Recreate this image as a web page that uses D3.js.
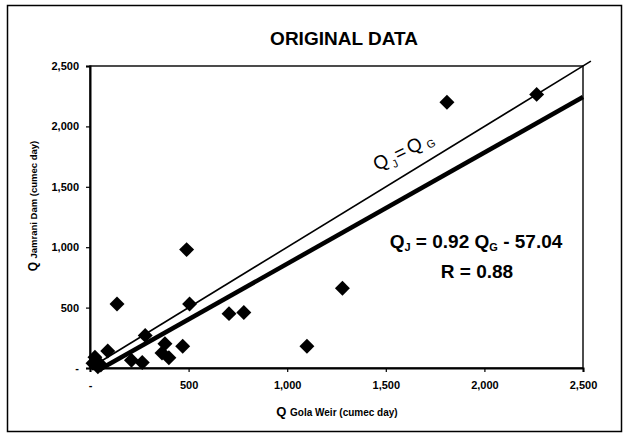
<!DOCTYPE html>
<html>
<head>
<meta charset="utf-8">
<script src="https://cdn.jsdelivr.net/npm/d3@7/dist/d3.min.js"></script>
<style>
  html, body { margin: 0; padding: 0; background: #fff; }
  svg { display: block; font-family: "Liberation Sans", Arial, sans-serif; }
</style>
</head>
<body>
<svg id="chart" width="630" height="440"></svg>
<script>
// Daily flow volumes: Gola Weir (x) against Jamrani Dam (y), cumec day
const gola    = [15, 25, 40, 55, 90, 137, 210, 265, 280, 365, 380, 400, 470, 490, 505, 705, 780, 1100, 1280, 1810, 2265];
const jamrani = [40, 90, 10, 25, 140, 530, 65, 45, 270, 125, 200, 85, 180, 980, 530, 450, 460, 180, 660, 2200, 2265];

const xTicks = [0, 500, 1000, 1500, 2000, 2500];
const yTicks = [0, 500, 1000, 1500, 2000, 2500];

// Fitted relation and the line of equality
const slope = 0.92, intercept = -57.04, rValue = 0.88;
const equalityExtent = [0, 2540];

const svg = d3.select("#chart");
const plot = { left: 90, right: 583, top: 66, bottom: 368 };

const x = d3.scaleLinear().domain([0, 2500]).range([plot.left, plot.right]);
const y = d3.scaleLinear().domain([0, 2500]).range([plot.bottom, plot.top]);

const fmt = v => v === 0 ? "-" : d3.format(",")(v);

// Chart frame
svg.append("rect")
  .attr("x", 7.5).attr("y", 5.5).attr("width", 614).attr("height", 426)
  .attr("fill", "#fff").attr("stroke", "#000").attr("stroke-width", 1.5);

// Title
svg.append("text")
  .attr("x", 344).attr("y", 45)
  .attr("text-anchor", "middle")
  .attr("font-size", 19).attr("font-weight", "bold")
  .text("ORIGINAL DATA");

// Plot box
svg.append("rect")
  .attr("x", plot.left).attr("y", plot.top)
  .attr("width", plot.right - plot.left).attr("height", plot.bottom - plot.top)
  .attr("fill", "none").attr("stroke", "#000").attr("stroke-width", 1.4);

// Axes
const xAxis = d3.axisBottom(x).tickValues(xTicks).tickFormat(fmt).tickSize(4).tickPadding(9);
const yAxis = d3.axisLeft(y).tickValues(yTicks).tickFormat(fmt).tickSize(4).tickPadding(7);

const gx = svg.append("g").attr("transform", `translate(0,${plot.bottom})`).call(xAxis);
const gy = svg.append("g").attr("transform", `translate(${plot.left},0)`).call(yAxis);
[gx, gy].forEach(g => {
  g.select(".domain").attr("stroke", "#000").attr("stroke-width", 2);
  g.selectAll(".tick line").attr("stroke", "#000").attr("stroke-width", 1.2);
  g.selectAll(".tick text")
    .attr("fill", "#000")
    .attr("font-family", "'Liberation Sans', Arial, sans-serif")
    .attr("font-size", 11).attr("font-weight", "bold");
});

// Axis titles
const xTitle = svg.append("text")
  .attr("x", 337).attr("y", 416).attr("text-anchor", "middle")
  .attr("font-weight", "bold");
xTitle.append("tspan").attr("font-size", 13).text("Q ");
xTitle.append("tspan").attr("font-size", 10).text("Gola Weir (cumec day)");

const yTitle = svg.append("text")
  .attr("transform", "translate(37,206) rotate(-90)")
  .attr("text-anchor", "middle")
  .attr("font-weight", "bold");
yTitle.append("tspan").attr("font-size", 12).text("Q ");
yTitle.append("tspan").attr("font-size", 9.5).text("Jamrani Dam (cumec day)");

// Line of equality Q_J = Q_G
const line = d3.line().x(d => x(d[0])).y(d => y(d[1]));
const eqLine = equalityExtent.map(v => [v, v]);
svg.append("path").attr("d", line(eqLine))
  .attr("fill", "none").attr("stroke", "#000").attr("stroke-width", 1.6);

// Regression line, starting where it crosses zero
const x0 = -intercept / slope;
const fit = [x0, 2500].map(v => [v, slope * v + intercept]);
svg.append("path").attr("d", line(fit))
  .attr("fill", "none").attr("stroke", "#000").attr("stroke-width", 4.5);

// Points
const pts = gola.map((g, i) => ({ g, j: jamrani[i] }));
const diamond = d3.symbol().type(d3.symbolSquare).size(112);
svg.append("g").selectAll("path")
  .data(pts).join("path")
  .attr("d", diamond)
  .attr("transform", d => `translate(${x(d.g)},${y(d.j)}) rotate(45)`)
  .attr("fill", "#000");

// Label along the line of equality
const eqLabel = svg.append("text")
  .attr("transform", "translate(377,171) rotate(-26)")
  .attr("font-size", 19);
eqLabel.append("tspan").text("Q");
eqLabel.append("tspan").attr("font-size", 11).attr("dy", 5).attr("dx", 2).text("J");
eqLabel.append("tspan").attr("dy", -5).attr("dx", 1).text("=");
eqLabel.append("tspan").attr("dx", 3).text("Q");
eqLabel.append("tspan").attr("font-size", 11).attr("dy", 3).attr("dx", 4).text("G");

// Regression equation and correlation
const eqText = svg.append("text")
  .attr("x", 476).attr("y", 248).attr("text-anchor", "middle")
  .attr("font-size", 19).attr("font-weight", "bold");
eqText.append("tspan").text("Q");
eqText.append("tspan").attr("font-size", 11).attr("dy", 3).text("J");
eqText.append("tspan").attr("dy", -3).text(` = ${slope.toFixed(2)} Q`);
eqText.append("tspan").attr("font-size", 11).attr("dy", 3).text("G");
eqText.append("tspan").attr("dy", -3).text(` - ${Math.abs(intercept).toFixed(2)}`);

svg.append("text")
  .attr("x", 477).attr("y", 278).attr("text-anchor", "middle")
  .attr("font-size", 19).attr("font-weight", "bold")
  .text(`R = ${rValue.toFixed(2)}`);
</script>
</body>
</html>
